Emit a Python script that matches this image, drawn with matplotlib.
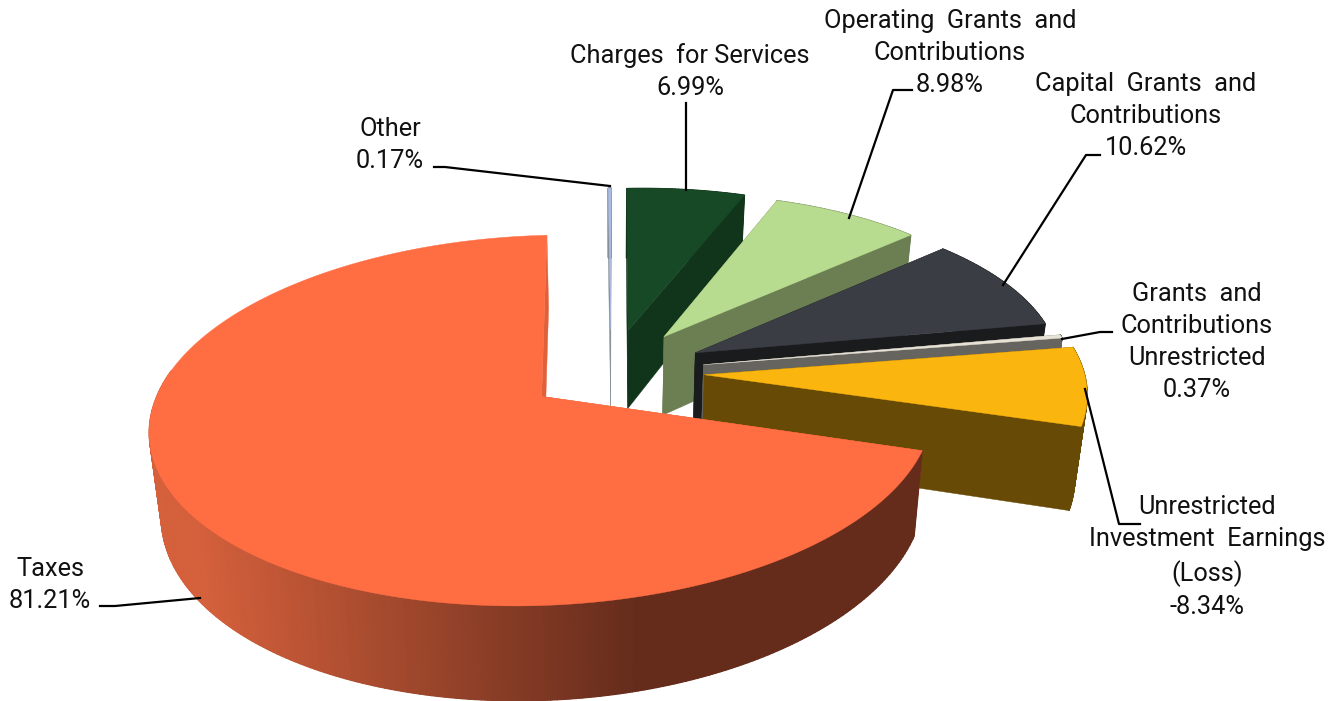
import numpy as np
import matplotlib
matplotlib.use('Agg')
import matplotlib.pyplot as plt
from matplotlib.collections import PolyCollection
from matplotlib.colors import to_rgb

plt.rcParams['font.family'] = ['Roboto', 'DejaVu Sans']

# slices clockwise from twelve o'clock
labels = ['Other', 'Charges  for Services', 'Operating  Grants  and\nContributions',
          'Capital  Grants  and\nContributions', 'Grants  and\nContributions\nUnrestricted',
          'Unrestricted\nInvestment  Earnings\n(Loss)', 'Taxes']
values = [0.17, 6.99, 8.98, 10.62, 0.37, -8.34, 81.21]
top_colors = ['#A9BCE4', '#184926', '#B7DB8F', '#3A3D44', '#E8E2D6', '#FBB50F', '#FF6D43']
wall_colors = ['#8A8F98', '#11351B', '#6C7F52', '#191B1D', '#66645F', '#664A06', '#D4603C']
explode = [0.245, 0.245, 0.245, 0.245, 0.245, 0.245, 0.22]
radius = [0.96, 0.96, 0.955, 0.955, 0.965, 0.985, 1.0]

label_xy = [(390, 145), (690, 72), (950, 53), (1146, 116), (1197, 342), (1207, 557), (50, 585)]
leaders = [
    [(434, 167), (445, 167), (610, 186)],
    [(686, 103), (686, 190)],
    [(912, 90), (893, 90), (849, 218)],
    [(1100, 155), (1086, 155), (1003, 285)],
    [(1112, 332), (1100, 332), (1062, 339)],
    [(1140, 524), (1119, 524), (1085, 389)],
    [(100, 606), (115, 606), (200, 598)],
]

# projection of the pie plane onto the canvas
cu, cv = 611, 372
scale_x, scale_y = 382, 176
persp, roll, lean = 0.128, 9, 3


def project(x, y):
    w = 1 + persp * y
    return np.column_stack([cu + (scale_x * x - lean * y) / w, cv - scale_y * y / w - roll * x / w])


def lower(pts):
    # same points on the bottom face of the extruded pie
    return np.column_stack([cu + 0.974 * (pts[:, 0] - cu), 1.061 * pts[:, 1] + 58])


fig = plt.figure(figsize=(13.43, 7.01), dpi=100)
ax = fig.add_axes([0, 0, 1, 1])
ax.set_xlim(0, 1343)
ax.set_ylim(701, 0)
ax.axis('off')

sizes = np.abs(values)
edges = np.concatenate([[0], np.cumsum(sizes)]) / sizes.sum() * 2 * np.pi

for i in range(len(values)):
    a0, a1 = edges[i], edges[i + 1]
    mid = (a0 + a1) / 2
    ox, oy = explode[i] * np.sin(mid), explode[i] * np.cos(mid)
    t = np.linspace(a0, a1, 300 if i == 6 else 40)
    arc = project(ox + radius[i] * np.sin(t), oy + radius[i] * np.cos(t))
    apex = project(np.array([ox]), np.array([oy]))

    arc_low = lower(arc)
    apex_low = lower(apex)

    # straight cut walls, then the rim, then the top face
    for j in (0, -1):
        wall = np.vstack([apex, arc[j], arc_low[j], apex_low])
        c = '#E0603A' if i == 6 else wall_colors[i]
        ax.fill(wall[:, 0], wall[:, 1], color=c, lw=0.3)

    if i == 6:
        # only the near side of the big slice shows its rim, darkening left to right
        near = np.cos(t) < 0.2
        rim, rim_low = arc[near], arc_low[near]
        light, dark = np.array(to_rgb('#D4603C')), np.array(to_rgb('#652C1C'))
        mix = np.clip((rim[:-1, 0] - 200) / 440, 0, 1)[:, None]
        rim_c = light * (1 - mix) + dark * mix
    else:
        rim, rim_low = arc, arc_low
        rim_c = np.array([to_rgb(wall_colors[i])] * (len(arc) - 1))

    under = np.vstack([rim, rim_low[::-1]])
    ax.fill(under[:, 0], under[:, 1], color=rim_c.mean(axis=0), lw=0)
    quads = [np.vstack([rim[k], rim[k + 1], rim_low[k + 1], rim_low[k]]) for k in range(len(rim) - 1)]
    ax.add_collection(PolyCollection(quads, facecolors=rim_c, edgecolors=rim_c, linewidths=0.8))

    face = np.vstack([apex, arc])
    ax.fill(face[:, 0], face[:, 1], color=top_colors[i], lw=0.3)

for pts in leaders:
    pts = np.array(pts)
    ax.plot(pts[:, 0], pts[:, 1], color='black', lw=1.6, solid_joinstyle='round')

for name, val, (x, y) in zip(labels, values, label_xy):
    ax.text(x, y, f'{name}\n{val:.2f}%', ha='center', va='center', fontsize=18.3,
            linespacing=1.42, color='#111111')

fig.savefig('out.png', dpi=100)
